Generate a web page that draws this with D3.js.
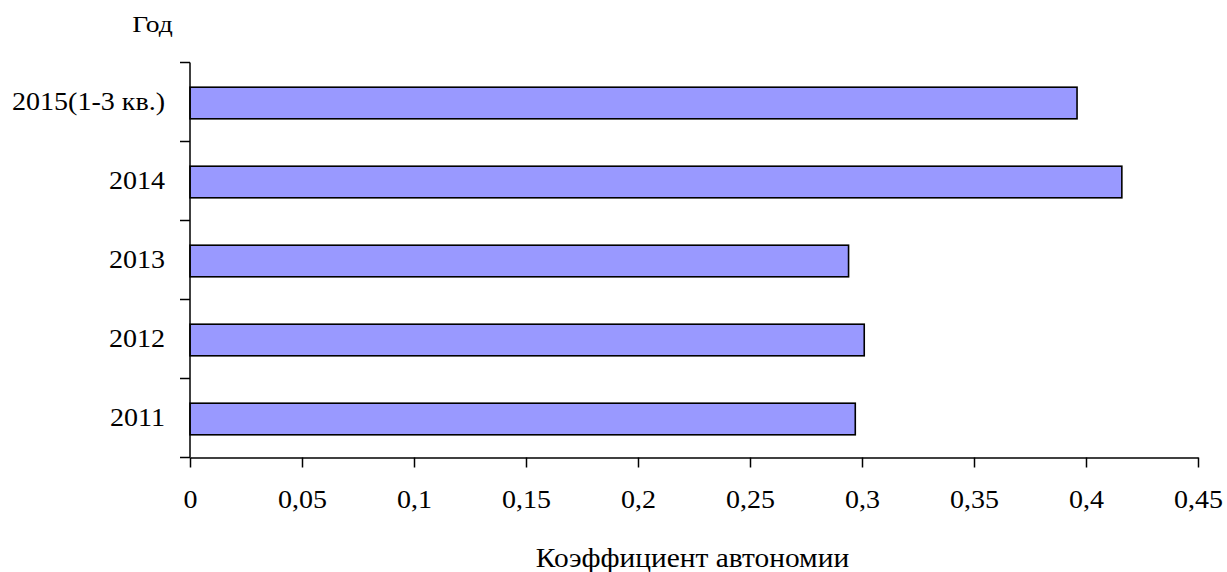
<!DOCTYPE html>
<html>
<head>
<meta charset="utf-8">
<script src="https://cdn.jsdelivr.net/npm/d3@7/dist/d3.min.js"></script>
<style>
  html, body { margin: 0; padding: 0; background: #fff; }
</style>
</head>
<body>
<svg id="chart" width="1227" height="572"></svg>
<script>
// Autonomy ratio by year
const years = ["2011", "2012", "2013", "2014", "2015(1-3 кв.)"];
const ratio = [0.297, 0.301, 0.294, 0.416, 0.396];
const xTicks = [0, 0.05, 0.1, 0.15, 0.2, 0.25, 0.3, 0.35, 0.4, 0.45];
const xTitle = "Коэффициент автономии";
const yTitle = "Год";

const svg = d3.select("#chart");
const serif = "\"Liberation Serif\", \"Times New Roman\", serif";

const x = d3.scaleLinear().domain([0, 0.45]).range([190, 1198]);
const y = d3.scaleBand()
  .domain(years.slice().reverse())
  .range([62.5, 457.5])
  .paddingInner(0.6)
  .paddingOuter(0.3);

// bars
svg.append("g").selectAll("rect")
  .data(years.map((d, i) => ({ year: d, v: ratio[i] })))
  .join("rect")
  .attr("x", x(0))
  .attr("y", d => y(d.year) + 1)
  .attr("width", d => x(d.v) - x(0))
  .attr("height", y.bandwidth())
  .attr("fill", "#9999ff")
  .attr("stroke", "#000")
  .attr("stroke-width", 1.6);

// x axis
const xAxis = svg.append("g")
  .attr("transform", `translate(0,${y.range()[1]})`)
  .call(d3.axisBottom(x)
    .tickValues(xTicks)
    .tickSize(10)
    .tickSizeOuter(0)
    .tickFormat(d => String(d).replace(".", ",")));
xAxis.attr("font-family", null).attr("font-size", null);
xAxis.select(".domain").attr("stroke", "#000").attr("stroke-width", 1.5);
xAxis.selectAll(".tick line").attr("stroke", "#000").attr("stroke-width", 1.5);
xAxis.selectAll(".tick text")
  .attr("y", 50.5)
  .attr("dy", null)
  .attr("fill", "#000")
  .style("font-family", serif)
  .style("font-size", "25px")
  .attr("transform", "scale(1.12,1)");

// y axis: line with ticks at band boundaries
const yAxis = svg.append("g");
yAxis.append("line")
  .attr("x1", x(0)).attr("x2", x(0))
  .attr("y1", y.range()[0]).attr("y2", y.range()[1])
  .attr("stroke", "#000").attr("stroke-width", 1.5);
const bounds = d3.range(years.length + 1).map(i => y.range()[0] + i * y.step());
yAxis.selectAll("line.tick")
  .data(bounds)
  .join("line")
  .attr("class", "tick")
  .attr("x1", x(0) - 10).attr("x2", x(0))
  .attr("y1", d => d).attr("y2", d => d)
  .attr("stroke", "#000").attr("stroke-width", 1.5);

// category labels
yAxis.selectAll("g.lbl")
  .data(years)
  .join("g")
  .attr("class", "lbl")
  .attr("transform", d => `translate(165,${y(d) + 1 + y.bandwidth() / 2 + 6.5})`)
  .append("text")
  .attr("text-anchor", "end")
  .style("font-family", serif)
  .style("font-size", "25.5px")
  .attr("transform", "scale(1.1,1)")
  .text(d => d);

// axis titles
svg.append("g")
  .attr("transform", "translate(692.5,567)")
  .append("text")
  .attr("text-anchor", "middle")
  .style("font-family", serif)
  .style("font-size", "27px")
  .attr("transform", "scale(1.09,1)")
  .text(xTitle);

svg.append("g")
  .attr("transform", "translate(152.5,32)")
  .append("text")
  .attr("text-anchor", "middle")
  .style("font-family", serif)
  .style("font-size", "24px")
  .attr("transform", "scale(1.15,1)")
  .text(yTitle);
</script>
</body>
</html>
